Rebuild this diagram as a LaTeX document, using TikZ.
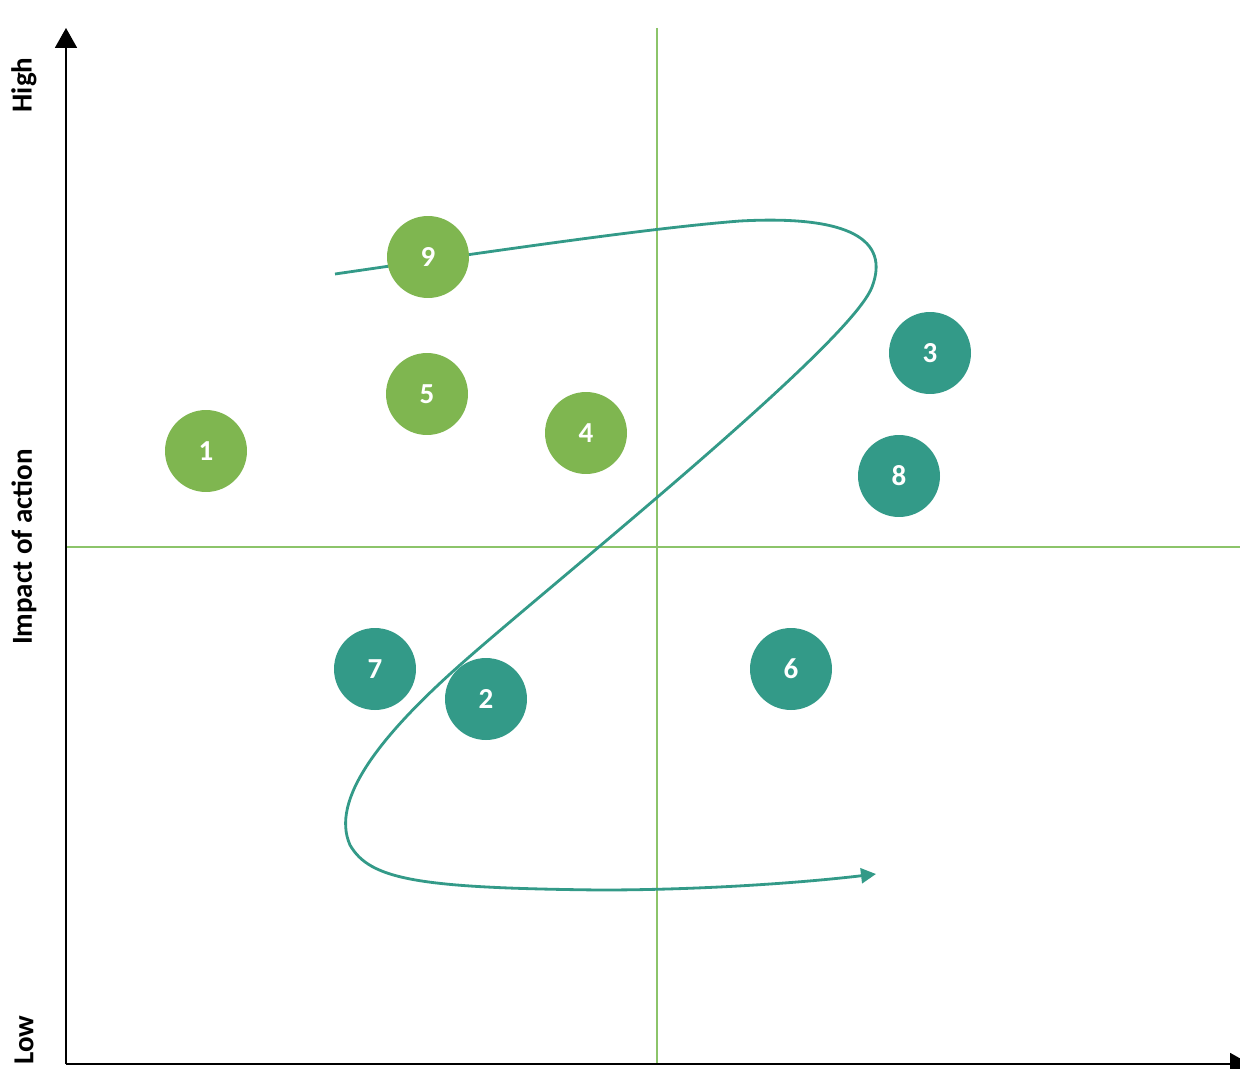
\documentclass[tikz,border=0pt]{standalone}
\usepackage{fontspec}
\setmainfont{Carlito}
\usetikzlibrary{arrows.meta}
\definecolor{leaf}{HTML}{7FB650}
\definecolor{sea}{HTML}{339A88}
\definecolor{grid}{HTML}{8CC46A}
\begin{document}
\begin{tikzpicture}[x=0.02cm,y=-0.02cm,
	dotg/.style={ circle, fill=leaf, inner sep=0pt, minimum size=1.64cm, text=white, font=\fontsize{16.5}{18}\selectfont\bfseries },
	dott/.style={ circle, fill=sea, inner sep=0pt, minimum size=1.64cm, text=white, font=\fontsize{16.5}{18}\selectfont\bfseries },
	axislabel/.style={ rotate=90, font=\fontsize{16.5}{18}\selectfont\bfseries }
]
\useasboundingbox (0,0) rectangle (1240,1068);

\coordinate (o) at (66,1064);
\coordinate (ytop) at (66,28);
\coordinate (xend) at (1250,1064);
\coordinate (hl) at (66,547);
\coordinate (hr) at (1240,547);
\coordinate (vt) at (657,28);
\coordinate (vb) at (657,1064);

\draw[grid, line width=1.1pt] (hl) -- (hr);
\draw[grid, line width=1.1pt] (vt) -- (vb);
\draw[line width=1.1pt, -{Triangle[width=0.44cm,length=0.4cm]}] (o) -- (ytop);
\draw[line width=1.1pt, -{Triangle[width=0.44cm,length=0.4cm]}] (o) -- (xend);

\node at (24,85) (high) [axislabel] {High};
\node at (24,547) (impact) [axislabel] {Impact of action};
\node at (24,1040) (low) [axislabel] {Low};

% path through the quadrants
\coordinate (s) at (335,274);
\coordinate (e) at (876,874);
\draw[sea, line width=1.6pt, -{Triangle[width=0.3cm,length=0.3cm]}]
	(s) .. controls (500,250) and (650,228) .. (740,221)
	.. controls (850,215) and (890,240) .. (872,287)
	.. controls (850,345) and (550,585) .. (460,665)
	.. controls (380,736) and (330,800) .. (350,845)
	.. controls (370,880) and (420,888) .. (600,890)
	.. controls (700,890) and (800,883) .. (e);

\node at (428,257) (c9) [dotg] {9};
\node at (427,394) (c5) [dotg] {5};
\node at (206,451) (c1) [dotg] {1};
\node at (586,433) (c4) [dotg] {4};
\node at (930,353) (c3) [dott] {3};
\node at (899,476) (c8) [dott] {8};
\node at (375,669) (c7) [dott] {7};
\node at (486,699) (c2) [dott] {2};
\node at (791,669) (c6) [dott] {6};

\end{tikzpicture}
\end{document}
